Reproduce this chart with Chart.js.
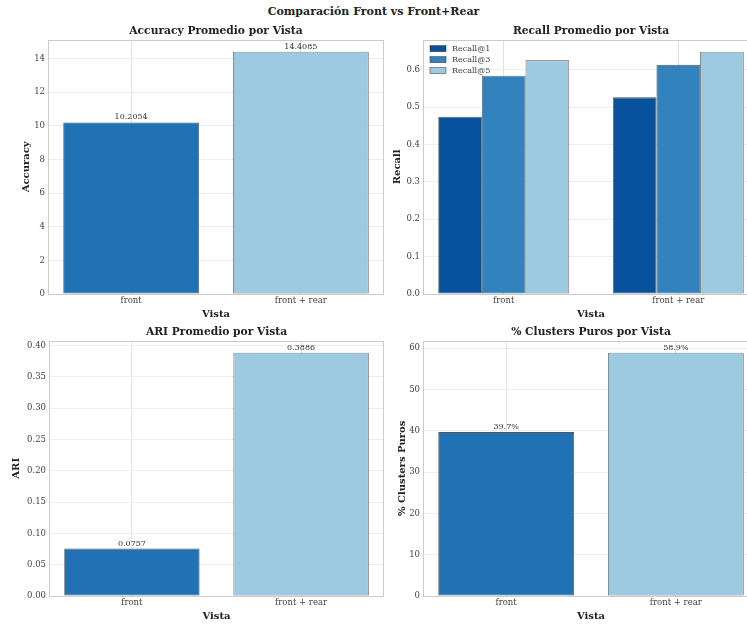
<!DOCTYPE html>
<html>
<head>
<meta charset="utf-8">
<script src="https://cdn.jsdelivr.net/npm/chart.js@4.4.1/dist/chart.umd.min.js"></script>
<style>
  html, body { margin: 0; padding: 0; background: #ffffff; overflow: hidden; width: 747px; height: 625px; }
  #suptitle {
    position: absolute; left: 0; width: 747px; top: 4px; text-align: center;
    font: bold 11px "DejaVu Serif", serif; color: #222; line-height: 16px;
  }
  .panel { position: absolute; }
</style>
</head>
<body>
<div id="suptitle">Comparación Front vs Front+Rear</div>
<div class="panel" style="left:0;top:0;width:384px;height:320px"><canvas id="cAcc"></canvas></div>
<div class="panel" style="left:375px;top:0;width:384px;height:320px"><canvas id="cRecall"></canvas></div>
<div class="panel" style="left:0;top:301px;width:384px;height:321px"><canvas id="cAri"></canvas></div>
<div class="panel" style="left:375px;top:301px;width:384px;height:321px"><canvas id="cPure"></canvas></div>
<script>
// ---- data ----
const vistas = ['front', 'front + rear'];

const accuracyValues = [10.2054, 14.4085];
const accuracyTicks = [0, 2, 4, 6, 8, 10, 12, 14];

const recallSeries = ['Recall@1', 'Recall@3', 'Recall@5'];
const recallAt1 = [0.474, 0.526];
const recallAt3 = [0.584, 0.613];
const recallAt5 = [0.625, 0.648];
const recallTicks = [0.0, 0.1, 0.2, 0.3, 0.4, 0.5, 0.6];

const ariValues = [0.0757, 0.3886];
const ariTicks = [0.00, 0.05, 0.10, 0.15, 0.20, 0.25, 0.30, 0.35, 0.40];

const purePercent = [39.7, 58.9];
const pureTicks = [0, 10, 20, 30, 40, 50, 60];

// ---- styling ----
const SERIF = '"DejaVu Serif", serif';
const BLUE_MID = '#2171b5';
const BLUE_LIGHT = '#9ecae1';
const RECALL_COLORS = ['#08519c', '#3182bd', '#9ecae1'];
const EDGE = 'rgba(30,30,30,0.75)';

Chart.defaults.font.family = SERIF;
Chart.defaults.color = '#444';

// frame around the plotting area
const framePlugin = {
  id: 'frame',
  afterDatasetsDraw(chart) {
    const a = chart.chartArea, ctx = chart.ctx;
    ctx.save();
    ctx.strokeStyle = '#cccccc';
    ctx.lineWidth = 1;
    ctx.strokeRect(Math.round(a.left) + 0.5, Math.round(a.top) + 0.5,
                   Math.round(a.right - a.left) - 1, Math.round(a.bottom - a.top));
    ctx.restore();
  }
};

// value text above each bar
const valueLabelPlugin = {
  id: 'valueLabels',
  afterDatasetsDraw(chart, args, opts) {
    if (!opts || !opts.format) return;
    const ctx = chart.ctx;
    ctx.save();
    ctx.font = '8px ' + SERIF;
    ctx.fillStyle = '#333';
    ctx.textAlign = 'center';
    ctx.textBaseline = 'bottom';
    chart.data.datasets.forEach((ds, di) => {
      chart.getDatasetMeta(di).data.forEach((bar, i) => {
        ctx.fillText(opts.format(ds.data[i].y), bar.x, bar.y - 1);
      });
    });
    ctx.restore();
  }
};

// legend drawn inside the plotting area, upper left
const innerLegendPlugin = {
  id: 'innerLegend',
  afterDatasetsDraw(chart, args, opts) {
    if (!opts || !opts.show) return;
    const a = chart.chartArea, ctx = chart.ctx;
    ctx.save();
    ctx.font = '8px ' + SERIF;
    ctx.textBaseline = 'middle';
    ctx.textAlign = 'left';
    chart.data.datasets.forEach((ds, i) => {
      const y = a.top + 9 + i * 11;
      const x = a.left + 7;
      ctx.fillStyle = ds.backgroundColor;
      ctx.fillRect(x, y - 3, 16, 6);
      ctx.strokeStyle = EDGE;
      ctx.lineWidth = 0.6;
      ctx.strokeRect(x, y - 3, 16, 6);
      ctx.fillStyle = '#444';
      ctx.fillText(ds.label, x + 22, y);
    });
    ctx.restore();
  }
};

function toPoints(values) {
  return values.map((v, i) => ({ x: i, y: v }));
}

function makeChart(id, cfg) {
  const xMin = cfg.xMin, xMax = cfg.xMax;
  return new Chart(document.getElementById(id), {
    type: 'bar',
    data: { datasets: cfg.datasets },
    options: {
      responsive: true,
      maintainAspectRatio: false,
      animation: false,
      events: [],
      layout: { padding: { top: 25.3, left: 0, right: 0, bottom: 0 } },
      datasets: {
        bar: {
          categoryPercentage: cfg.categoryPercentage,
          barPercentage: 1,
          borderWidth: 0.8,
          borderColor: EDGE,
          borderSkipped: false
        }
      },
      scales: {
        x: {
          type: 'linear',
          min: xMin, max: xMax,
          offset: false,
          grid: { offset: false, color: '#e2e2e2', lineWidth: 1, drawTicks: false },
          border: { display: false },
          afterBuildTicks(scale) { scale.ticks = vistas.map((_, i) => ({ value: i })); },
          afterFit(scale) { scale.height = 26; },
          ticks: {
            padding: 2,
            font: { size: 8.5 },
            color: '#444',
            callback: (v) => vistas[v]
          },
          title: {
            display: true, text: 'Vista',
            font: { size: 10, weight: 'bold' }, color: '#222',
            padding: { top: 0, bottom: 0 }
          }
        },
        y: {
          type: 'linear',
          min: 0, max: cfg.yMax,
          grid: { color: '#eeeeee', lineWidth: 1, drawTicks: false },
          border: { display: false },
          afterBuildTicks(scale) { scale.ticks = cfg.yTicks.map(v => ({ value: v })); },
          afterFit(scale) { scale.width = cfg.yWidth; },
          ticks: {
            padding: 3,
            font: { size: 8.5 },
            color: '#444',
            callback: (v) => v.toFixed(cfg.decimals)
          },
          title: {
            display: true, text: cfg.yTitle,
            font: { size: 10, weight: 'bold' }, color: '#222',
            padding: { top: cfg.yTitlePad, bottom: 0 }
          }
        }
      },
      plugins: {
        legend: { display: false },
        tooltip: { enabled: false },
        title: {
          display: true, text: cfg.title,
          fullSize: false,
          font: { size: 10.7, weight: 'bold', lineHeight: 1.2 }, color: '#222',
          padding: { top: 0, bottom: 1.5 }
        },
        valueLabels: { format: cfg.format },
        innerLegend: { show: !!cfg.legend }
      }
    },
    plugins: [framePlugin, valueLabelPlugin, innerLegendPlugin]
  });
}

// single-bar-per-view colours
const pairColors = [BLUE_MID, BLUE_LIGHT];
function singleSeries(values) {
  return [{
    label: 'valor',
    data: toPoints(values),
    backgroundColor: pairColors,
  }];
}

makeChart('cAcc', {
  title: 'Accuracy Promedio por Vista', yTitle: 'Accuracy', yTitlePad: 20,
  datasets: singleSeries(accuracyValues),
  xMin: -0.49, xMax: 1.49, categoryPercentage: 0.8,
  yMax: Math.max(...accuracyValues) * 1.05, yTicks: accuracyTicks, decimals: 0, yWidth: 48,
  format: v => v.toFixed(4)
});

makeChart('cRecall', {
  title: 'Recall Promedio por Vista', yTitle: 'Recall', yTitlePad: 16,
  datasets: [recallAt1, recallAt3, recallAt5].map((vals, i) => ({
    label: recallSeries[i],
    data: toPoints(vals),
    backgroundColor: RECALL_COLORS[i]
  })),
  xMin: -0.4625, xMax: 1.4625, categoryPercentage: 0.75,
  yMax: Math.max(...recallAt5) * 1.05, yTicks: recallTicks, decimals: 1, yWidth: 48,
  legend: true
});

makeChart('cAri', {
  title: 'ARI Promedio por Vista', yTitle: 'ARI', yTitlePad: 10,
  datasets: singleSeries(ariValues),
  xMin: -0.49, xMax: 1.49, categoryPercentage: 0.8,
  yMax: Math.max(...ariValues) * 1.05, yTicks: ariTicks, decimals: 2, yWidth: 49,
  format: v => v.toFixed(4)
});

makeChart('cPure', {
  title: '% Clusters Puros por Vista', yTitle: '% Clusters Puros', yTitlePad: 21,
  datasets: singleSeries(purePercent),
  xMin: -0.49, xMax: 1.49, categoryPercentage: 0.8,
  yMax: Math.max(...purePercent) * 1.05, yTicks: pureTicks, decimals: 0, yWidth: 48,
  format: v => v.toFixed(1) + '%'
});
</script>
</body>
</html>
